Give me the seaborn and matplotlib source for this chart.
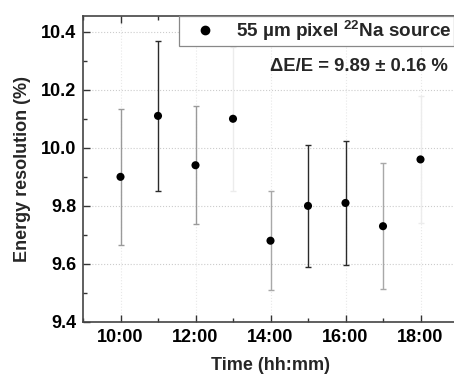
import matplotlib
matplotlib.use("Agg")
import matplotlib.pyplot as plt
from matplotlib.ticker import MultipleLocator, FormatStrFormatter
from matplotlib.lines import Line2D
import seaborn as sns
import pandas as pd

# measured energy resolution per hour
hours = [10, 11, 12, 13, 14, 15, 16, 17, 18]
resolution = [9.90, 10.11, 9.94, 10.10, 9.68, 9.80, 9.81, 9.73, 9.96]
errors = [0.234, 0.258, 0.204, 0.248, 0.170, 0.210, 0.214, 0.217, 0.219]
# error bar shading as it appears in the picture
bar_colors = ['#9a9a9a', '#2a2a2a', '#9a9a9a', '#ececec', '#a8a8a8',
              '#2a2a2a', '#2a2a2a', '#a8a8a8', '#ececec']

tick_hours = [10, 12, 14, 16, 18]
tick_labels = ["10:00", "12:00", "14:00", "16:00", "18:00"]

df = pd.DataFrame({'hour': hours, 'res': resolution, 'err': errors})

sns.set_theme(style="ticks")
plt.rcParams['font.family'] = ['Liberation Sans', 'DejaVu Sans']
plt.rcParams['font.weight'] = 'bold'
plt.rcParams['mathtext.fontset'] = 'custom'
plt.rcParams['mathtext.rm'] = 'Liberation Sans:bold'
plt.rcParams['mathtext.default'] = 'rm'

FS = 13

fig = plt.figure(figsize=(4.54, 3.79), dpi=100)
ax = fig.add_axes([83 / 454, 57 / 379, 375 / 454, 306 / 379])

# grid first so it stays behind
ax.yaxis.grid(True, which='major', linestyle=':', color='#cccccc', linewidth=0.8)
ax.xaxis.grid(True, which='major', linestyle=':', color='#e8e8e8', linewidth=0.8)
ax.set_axisbelow(True)

# error bars one by one (different shades)
for h, r, e, c in zip(df['hour'], df['res'], df['err'], bar_colors):
    ax.errorbar(h, r, yerr=e, fmt='none', ecolor=c, elinewidth=1.0,
                capsize=2.0, capthick=1.0, zorder=2)

sns.scatterplot(data=df, x='hour', y='res', ax=ax, color='black',
                s=34, edgecolor='none', zorder=3, legend=False)

ax.set_xlim(9, 19)
ax.set_ylim(9.4, 10.454)
ax.set_xticks(tick_hours)
ax.set_xticklabels(tick_labels)
ax.xaxis.set_minor_locator(MultipleLocator(1))
ax.yaxis.set_major_locator(MultipleLocator(0.2))
ax.yaxis.set_minor_locator(MultipleLocator(0.1))
ax.yaxis.set_major_formatter(FormatStrFormatter('%.1f'))

ax.tick_params(axis='both', which='both', direction='in', top=True,
               right=False, colors='#333333', labelcolor='black')
ax.tick_params(axis='both', which='major', length=5, width=1.0,
               labelsize=FS, pad=5)
ax.tick_params(axis='both', which='minor', length=3, width=1.0)

for side in ['left', 'bottom', 'top']:
    ax.spines[side].set_color('#444444')
    ax.spines[side].set_linewidth(1.2)
ax.spines['right'].set_visible(False)

ax.set_xlabel("Time (hh:mm)", fontsize=FS, fontweight='bold', labelpad=8)
ax.set_ylabel("Energy resolution (%)", fontsize=FS, fontweight='bold', labelpad=7)

handle = Line2D([], [], marker='o', color='black', linestyle='none', markersize=6)
leg = ax.legend([handle], [r"55 µm pixel $^{22}$Na source"],
                loc='upper left', bbox_to_anchor=((179 - 83) / 375, 1.0),
                frameon=True, fancybox=False,
                framealpha=1, prop={'size': 13.6, 'weight': 'bold'},
                handletextpad=0.45, borderpad=0.15, handlelength=2.4,
                borderaxespad=0)
leg.get_frame().set_linewidth(0.9)
leg.get_frame().set_edgecolor('#888888')

ax.text((448 - 83) / 375, 0.834, "ΔE/E = 9.89 ± 0.16 %",
        transform=ax.transAxes, ha='right', va='center',
        fontsize=13.3, fontweight='bold')

fig.savefig("out.png", dpi=100)
